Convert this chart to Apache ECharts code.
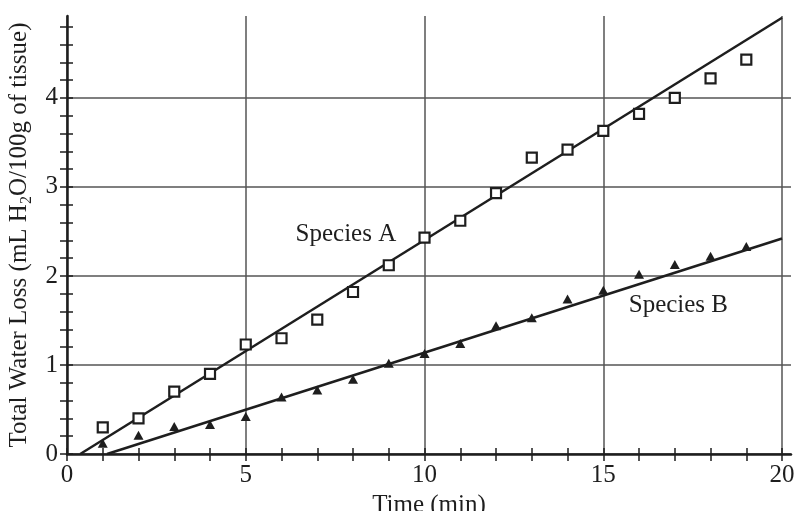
<!DOCTYPE html>
<html>
<head>
<meta charset="utf-8">
<script src="https://cdn.jsdelivr.net/npm/echarts@6/dist/echarts.min.js"></script>
<style>html,body{margin:0;padding:0;background:#fff}#c{width:794px;height:511px}</style>
</head>
<body>
<div id="c"></div>
<script>
// ---- data ----
var times = [1,2,3,4,5,6,7,8,9,10,11,12,13,14,15,16,17,18,19];
var speciesA = [0.30,0.40,0.70,0.90,1.23,1.30,1.51,1.82,2.12,2.43,2.62,2.93,3.33,3.42,3.63,3.82,4.00,4.22,4.43];
var speciesB = [0.12,0.21,0.31,0.33,0.42,0.64,0.72,0.84,1.02,1.13,1.24,1.44,1.53,1.74,1.84,2.02,2.13,2.22,2.33];
var fitA = [[0.37,0],[20,4.9]];
var fitB = [[1.12,0],[20,2.42]];
var xTickLabels = [0,5,10,15,20];
var yTickLabels = [0,1,2,3,4];
var annotations = [{name:'Species A', value:[7.8,2.47]},{name:'Species B', value:[17.1,1.67]}];

var xMinor = []; for (var i = 0; i <= 20; i++) xMinor.push(i);
var yMinor = []; for (var j = 0; j <= 24; j++) yMinor.push(Math.round(j*2)/10);

var FONT = 'Liberation Serif';
var INK = '#1e1e1e';
var GRID = '#555';

function pairs(xs, ys){ return xs.map(function(x,k){ return [x, ys[k]]; }); }

var chart = echarts.init(document.getElementById('c'), null, {renderer:'canvas'});
var baseX = {type:'value', min:0, max:20.25, position:'bottom', interval:5};
var baseY = {type:'value', min:0, max:4.92, position:'left', interval:1};
function tickAxis(base, minor, inside, len){
  return Object.assign({}, base, {
    axisLine:{show:false},
    axisTick:{show:true, inside:inside, length:len, customValues:minor, lineStyle:{color:INK, width:1.5}},
    axisLabel:{show:false},
    splitLine:{show:false}
  });
}
chart.setOption({
  animation:false,
  backgroundColor:'#fff',
  grid:{left:67, right:3, top:16, bottom:57, containLabel:false, outerBoundsMode:'none'},
  xAxis:[
    Object.assign({}, baseX, {
      axisLine:{show:true, lineStyle:{color:INK, width:2.5}},
      axisTick:{show:false, customValues:xTickLabels},
      axisLabel:{customValues:xTickLabels, color:INK, fontFamily:FONT, fontSize:25, margin:9},
      splitLine:{show:true, lineStyle:{color:GRID, width:1.5}},
      name:'Time (min)', nameLocation:'middle', nameGap:36,
      nameTextStyle:{color:INK, fontFamily:FONT, fontSize:25}
    }),
    tickAxis(baseX, xMinor, false, 7),
    tickAxis(baseX, xMinor, true, 6)
  ],
  yAxis:[
    Object.assign({}, baseY, {
      axisLine:{show:true, lineStyle:{color:INK, width:2.5}},
      axisTick:{show:false, customValues:yTickLabels},
      axisLabel:{customValues:yTickLabels, color:INK, fontFamily:FONT, fontSize:25, margin:9},
      splitLine:{show:true, lineStyle:{color:GRID, width:1.5}},
      name:'{n|Total Water Loss (mL H}{s|2}{n|O/100g of tissue)}',
      nameLocation:'middle', nameGap:31,
      nameTextStyle:{color:INK, fontFamily:FONT, fontSize:25,
        rich:{n:{fontFamily:FONT, fontSize:25, color:INK}, s:{fontFamily:FONT, fontSize:16, color:INK, padding:[14,0,0,0]}}}
    }),
    tickAxis(baseY, yMinor, false, 7),
    tickAxis(baseY, yMinor, true, 6)
  ],
  series:[
    {type:'line', data:fitA, symbol:'none', lineStyle:{color:INK, width:2.5}, z:3},
    {type:'line', data:fitB, symbol:'none', lineStyle:{color:INK, width:2.5}, z:3},
    {type:'scatter', data:pairs(times, speciesA), symbol:'rect', symbolSize:10,
      itemStyle:{color:'#fff', borderColor:INK, borderWidth:2.2, opacity:1}, z:4},
    {type:'scatter', data:pairs(times, speciesB), symbol:'triangle', symbolSize:[10,9],
      itemStyle:{color:INK, opacity:1}, z:4},
    {type:'scatter', data:annotations, symbolSize:0, z:5, itemStyle:{opacity:1},
      label:{show:true, position:'inside', formatter:'{b}', color:INK, opacity:1, textBorderWidth:0,
        fontFamily:FONT, fontSize:25}}
  ]
});
</script>
</body>
</html>
